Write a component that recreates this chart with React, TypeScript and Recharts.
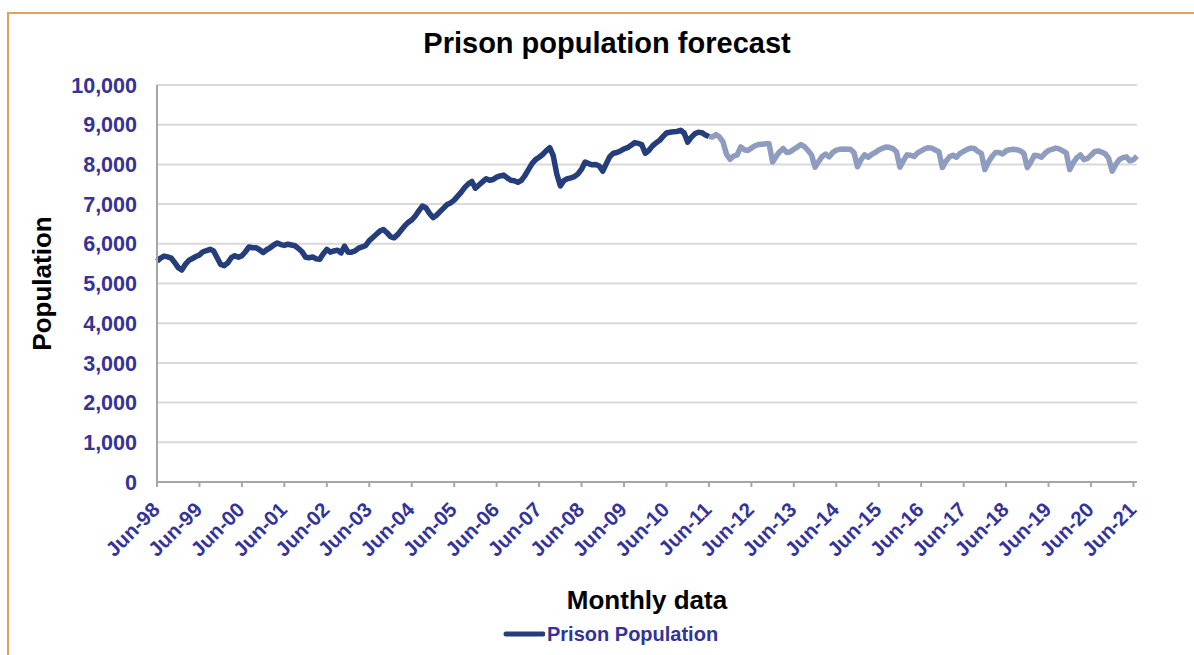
import { LineChart, Line, XAxis, YAxis, CartesianGrid, Label } from 'recharts';

const MONTHS = ['Jan', 'Feb', 'Mar', 'Apr', 'May', 'Jun', 'Jul', 'Aug', 'Sep', 'Oct', 'Nov', 'Dec'];
const START_YEAR = 1998;
const START_MONTH = 5; // June

// recorded monthly population, Jun-98 .. Jun-11
const HISTORY = [
  5560, 5640, 5690, 5670, 5640, 5530, 5400, 5340, 5480, 5580, 5630, 5680,
  5720, 5800, 5830, 5860, 5820, 5650, 5480, 5450, 5520, 5650, 5700, 5660,
  5700, 5800, 5920, 5900, 5900, 5850, 5780, 5850, 5900, 5970, 6020, 5980,
  5960, 5990, 5970, 5950, 5880, 5800, 5660, 5650, 5670, 5620, 5610, 5750,
  5860, 5790, 5820, 5840, 5770, 5940, 5790, 5790, 5820, 5890, 5920, 5960,
  6080, 6160, 6240, 6320, 6360, 6280, 6180, 6150, 6230, 6340, 6450, 6540,
  6600, 6700, 6830, 6950, 6910, 6770, 6660, 6720, 6810, 6900, 6990, 7030,
  7100, 7200, 7300, 7420, 7510, 7570, 7400, 7480, 7560, 7640, 7600, 7620,
  7680, 7710, 7730, 7660, 7600, 7590, 7550, 7600, 7720, 7870, 8020, 8120,
  8180, 8250, 8340, 8420, 8220, 7760, 7460, 7590, 7640, 7660, 7690, 7760,
  7880, 8060, 8020, 7990, 8000, 7960, 7830, 8020, 8200, 8280, 8300, 8340,
  8390, 8420, 8480, 8550, 8530, 8500, 8280, 8350, 8460, 8540, 8600, 8700,
  8790, 8810, 8820, 8830, 8860, 8790, 8560, 8680, 8770, 8810, 8800, 8740,
  8700,
];

// projected monthly population, Jun-11 .. Jul-21
const FORECAST = [
  8700, 8690, 8750, 8690, 8560, 8250, 8130, 8210, 8240, 8440, 8370, 8350,
  8410, 8470, 8500, 8510, 8520, 8520, 8060, 8200, 8320, 8400, 8300, 8320,
  8380, 8440, 8500, 8450, 8350, 8240, 7930, 8070, 8200, 8260, 8190, 8300,
  8360, 8380, 8390, 8380, 8380, 8300, 7940, 8120, 8240, 8180, 8250, 8300,
  8360, 8400, 8440, 8430, 8400, 8320, 7930, 8100, 8240, 8230, 8200, 8290,
  8340, 8390, 8420, 8410, 8360, 8320, 7920, 8080, 8190, 8230, 8180, 8280,
  8330, 8380, 8410, 8400, 8330, 8280, 7870, 8060, 8200, 8300, 8300, 8260,
  8340, 8370, 8380, 8370, 8340, 8280, 7920, 8060, 8230, 8220, 8180, 8280,
  8350, 8380, 8410, 8390, 8340, 8290, 7870, 8040, 8170, 8240, 8120, 8150,
  8230, 8320, 8340, 8310, 8270, 8150, 7830, 8000, 8120, 8170, 8190, 8090,
  8120, 8210,
];

const Y_TICKS = [0, 1000, 2000, 3000, 4000, 5000, 6000, 7000, 8000, 9000, 10000];

const FONT = '"Liberation Sans", Arial, sans-serif';
const AXIS_BLUE = '#333399';
const NAVY = '#253D7A';
const FORECAST_BLUE = '#8E9CBF';
const AXIS_GREY = '#A6A6A6';

const monthLabel = (i: number) => {
  const m = START_MONTH + i;
  const yy = (START_YEAR + Math.floor(m / 12)) % 100;
  return `${MONTHS[m % 12]}-${String(yy).padStart(2, '0')}`;
};

const split = HISTORY.length - 1;
const data = Array.from({ length: HISTORY.length + FORECAST.length - 1 }, (_, i) => ({
  month: monthLabel(i),
  actual: i <= split ? HISTORY[i] : null,
  forecast: i >= split ? FORECAST[i - split] : null,
}));

const MonthTick = ({ x, y, payload }: any) => (
  <g transform={`translate(${x + 4},${y + 22}) rotate(-45)`}>
    <text textAnchor="end" fill={AXIS_BLUE} fontSize={20.5} fontWeight="bold" fontFamily={FONT}>
      {payload.value}
    </text>
  </g>
);

const App = () => (
  <div style={{ position: 'relative', width: 1194, height: 655, overflow: 'hidden', background: '#fff', fontFamily: FONT }}>
    <style>{'body { margin: 0; }'}</style>
    <div
      style={{
        position: 'absolute', left: 7, top: 12, width: 1300, height: 800,
        borderLeft: '2px solid #E2A25A', borderTop: '2px solid #E2A25A',
      }}
    />
    <div
      style={{
        position: 'absolute', left: 0, width: 1214, top: 29, textAlign: 'center',
        fontSize: 29, lineHeight: '28px', fontWeight: 'bold', color: '#000',
      }}
    >
      Prison population forecast
    </div>

    <LineChart width={1194} height={655} data={data} margin={{ top: 85, right: 57, bottom: 38, left: 0 }} style={{ position: 'absolute', left: 0, top: 0 }}>
      <CartesianGrid vertical={false} stroke="#D9D9D9" strokeWidth={2} />
      <XAxis
        dataKey="month"
        interval={11}
        height={135}
        tick={<MonthTick />}
        tickSize={5}
        tickLine={{ stroke: AXIS_GREY, strokeWidth: 2 }}
        axisLine={{ stroke: AXIS_GREY, strokeWidth: 2 }}
      >
        <Label value="Monthly data" position="insideBottom" offset={8} fill="#000" fontSize={26} fontWeight="bold" fontFamily={FONT} />
      </XAxis>
      <YAxis
        width={157}
        domain={[0, 10000]}
        ticks={Y_TICKS}
        tickFormatter={(v) => v.toLocaleString('en-US')}
        tick={{ fill: AXIS_BLUE, fontSize: 21.5, fontWeight: 'bold', fontFamily: FONT }}
        tickLine={false}
        tickSize={0}
        tickMargin={20}
        axisLine={{ stroke: AXIS_GREY, strokeWidth: 2 }}
      >
        <Label
          content={({ viewBox }: any) => {
            const cx = viewBox.x + 42;
            const cy = viewBox.y + viewBox.height / 2;
            return (
              <text
                x={cx}
                y={cy}
                transform={`rotate(-90 ${cx} ${cy})`}
                textAnchor="middle"
                dominantBaseline="central"
                fill="#000"
                fontSize={26}
                fontWeight="bold"
                fontFamily={FONT}
              >
                Population
              </text>
            );
          }}
        />
      </YAxis>
      <Line type="linear" dataKey="forecast" stroke={FORECAST_BLUE} strokeWidth={5.5} strokeLinejoin="round" dot={false} isAnimationActive={false} />
      <Line type="linear" dataKey="actual" stroke={NAVY} strokeWidth={5.5} strokeLinejoin="round" dot={false} isAnimationActive={false} />
    </LineChart>

    <div style={{ position: 'absolute', left: 503, top: 624, height: 20, display: 'flex', alignItems: 'center' }}>
      <svg width={42} height={20}>
        <line x1={3} y1={10} x2={40} y2={10} stroke={NAVY} strokeWidth={5} strokeLinecap="round" />
      </svg>
      <span style={{ marginLeft: 2, fontSize: 20, lineHeight: '20px', fontWeight: 'bold', color: AXIS_BLUE }}>
        Prison Population
      </span>
    </div>
  </div>
);

export default App;
